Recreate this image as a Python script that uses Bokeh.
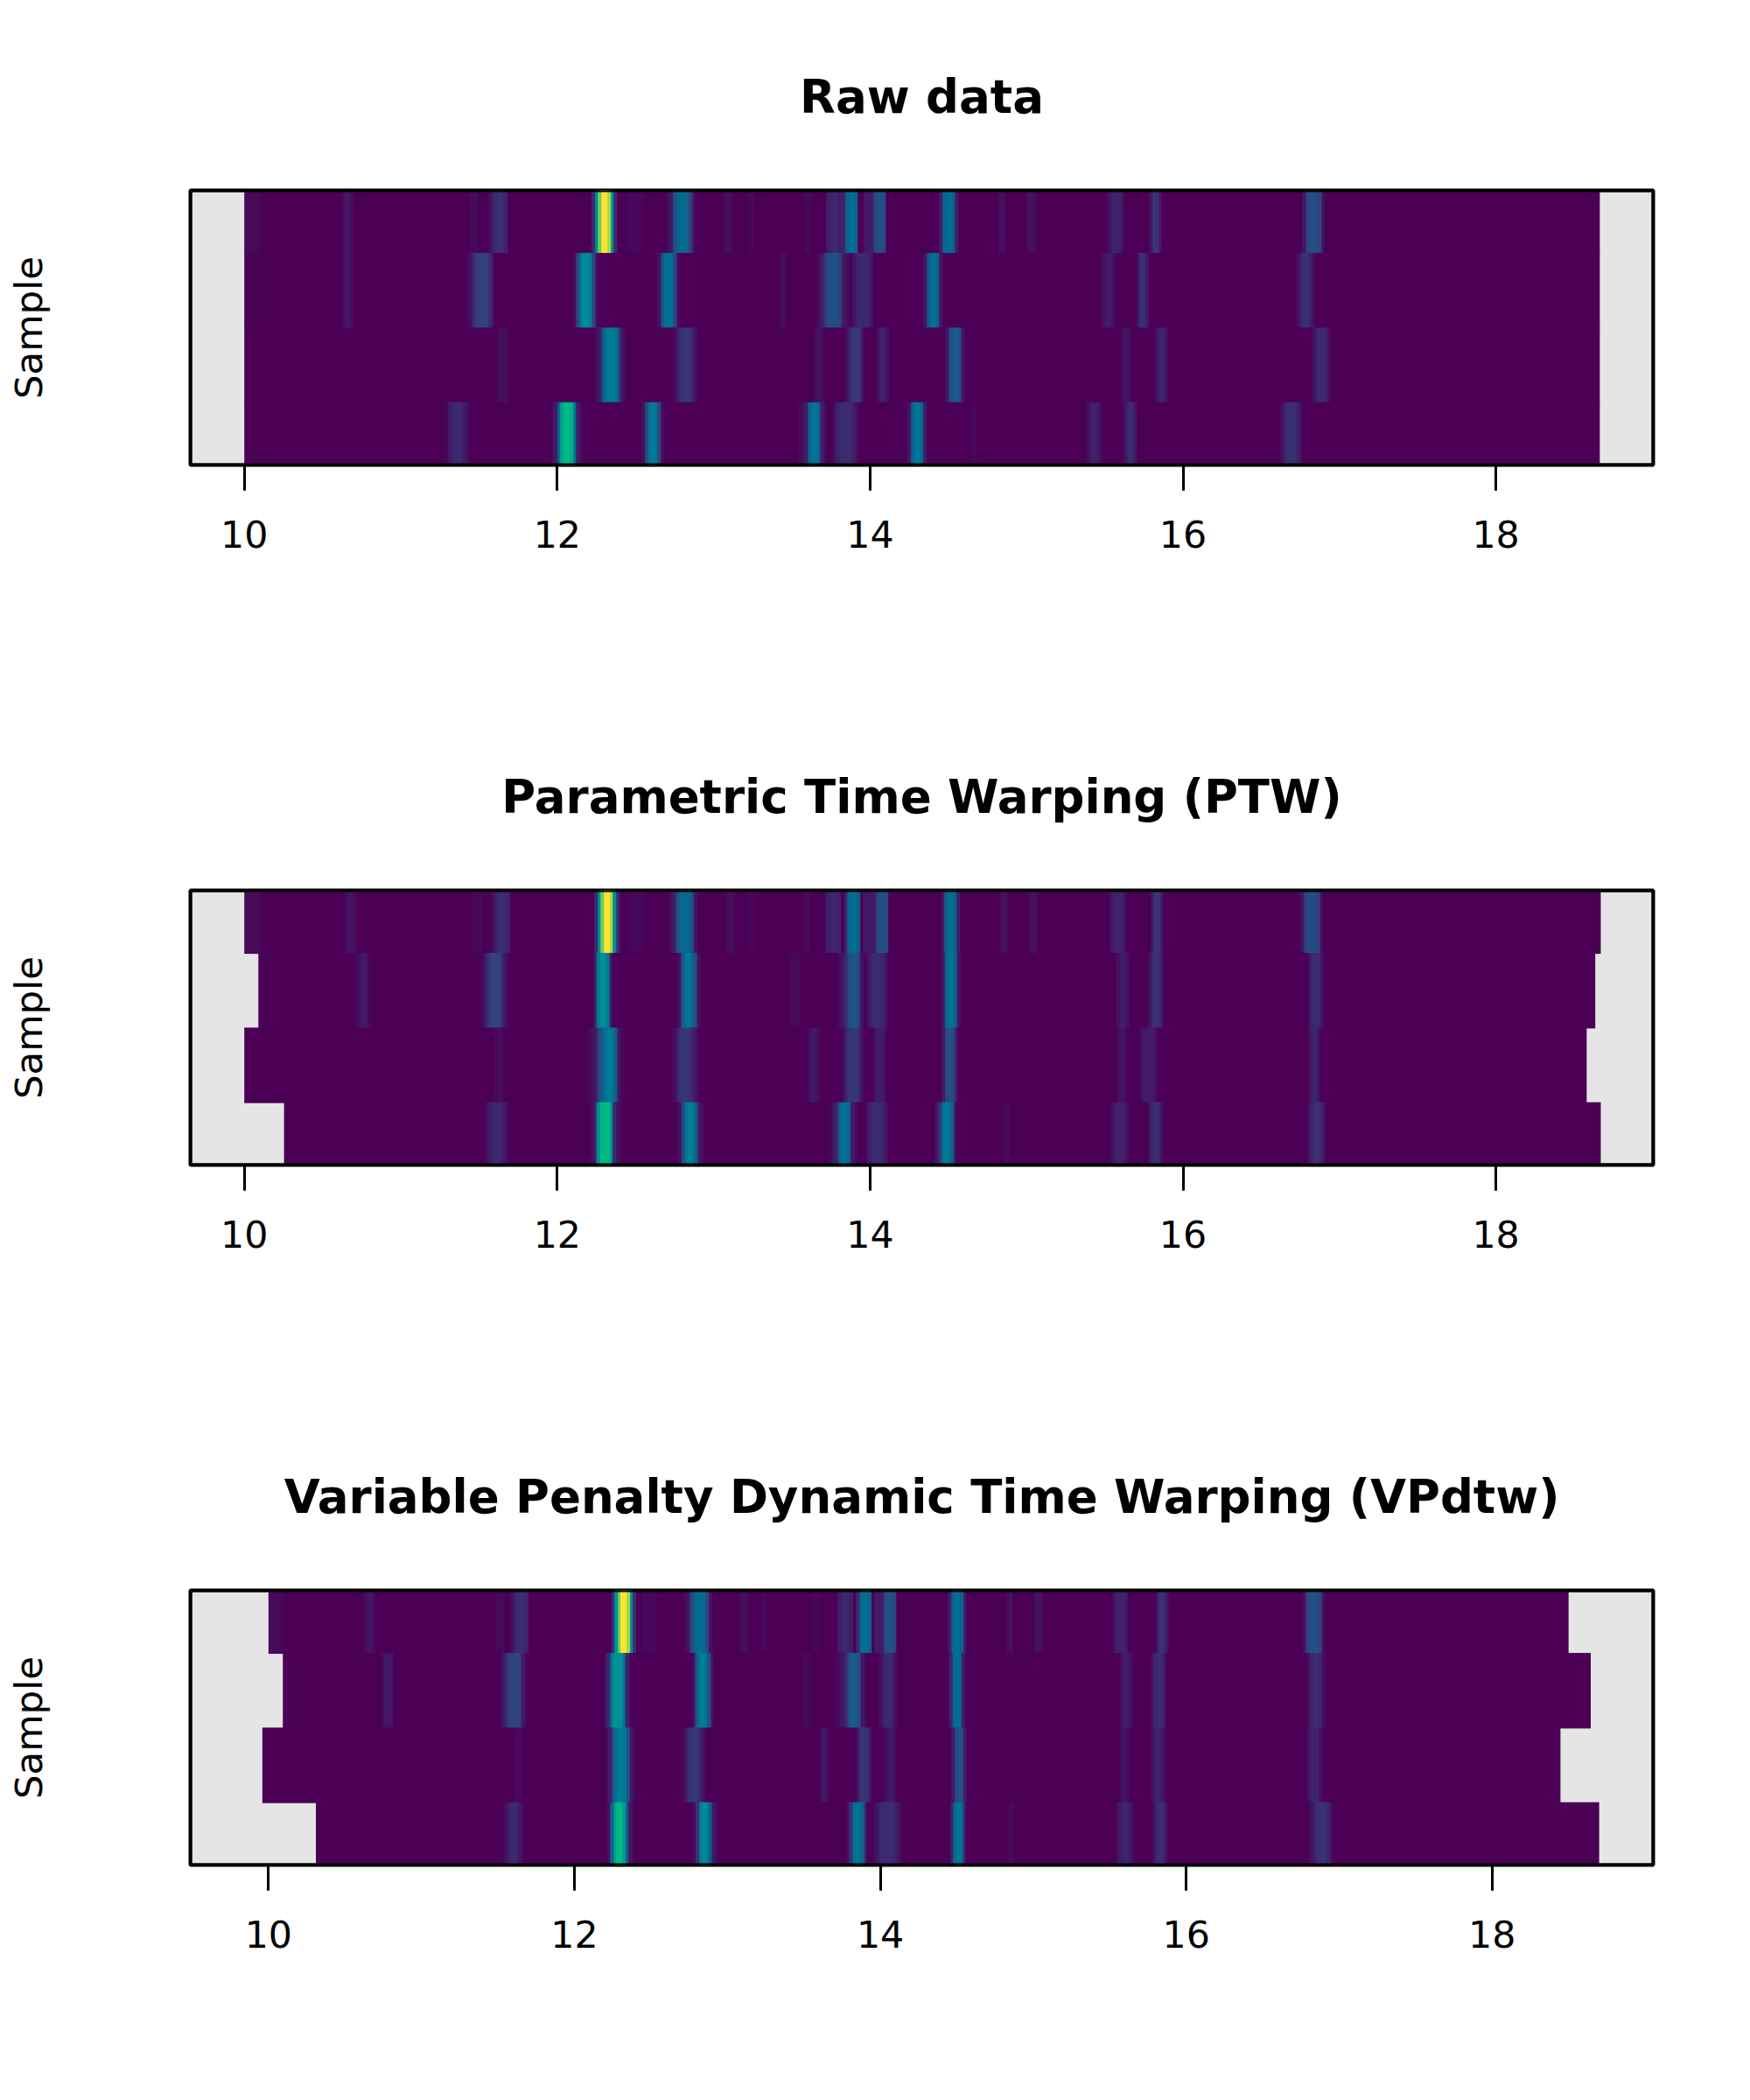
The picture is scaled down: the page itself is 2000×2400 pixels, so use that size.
import numpy as np
from bokeh.embed import file_html
from bokeh.resources import INLINE
from bokeh.layouts import column
from bokeh.models import BoxAnnotation, FixedTicker, LinearColorMapper, Range1d, Title
from bokeh.plotting import figure

# Rows top to bottom are samples 1-4. Intensities read on a 0-100 colour scale.
CELL_MIN = 0.02
TICKS = [10, 12, 14, 16, 18]

raw_start = [10.0, 10.0, 10.0, 10.0]
raw_end = [18.664, 18.664, 18.664, 18.664]
ptw_start = [10.0, 10.09, 10.0, 10.254]
ptw_end = [18.67, 18.635, 18.58, 18.67]
vpd_start = [10.0, 10.094, 9.96, 10.31]
vpd_end = [18.50, 18.645, 18.447, 18.70]

# Band centres (minutes) and the cell intensities across each band.
raw_s1_t = [10.045, 10.67, 11.48, 11.63, 12.31, 12.5, 12.80, 13.10, 13.24, 13.595, 13.77, 13.88, 13.985, 14.06, 14.51, 14.85, 15.04, 15.58, 15.83, 16.83]
raw_s1_v = [[3,3,3,3,3],[3,6,6,3],[3,3,3],[4,9,12,13,12,9],[12,45,78,100,100,85,45,12],[2,2,2,2,2],[4,8,22,30,32,32,30,18,5],[3,5,3],[2,2],[3,3],[8,10,11,10,8],[10,30,33,33,28],[7,7,7],[8,20,23,23,20],[8,28,33,33,28,8],[4,5],[4,5,4],[6,9,9,9,6],[7,14,14,7],[6,18,21,22,21,18,6]]
raw_s2_t = [10.07, 10.67, 11.51, 12.19, 12.72, 13.44, 13.76, 13.95, 14.41, 15.53, 15.75, 16.78]
raw_s2_v = [[1,1,1,1,1,1,1],[3,6,6,3],[3,6,13,17,18,18,17,12,4],[4,18,38,44,44,40,20,5],[5,20,33,34,33,20,5],[4,4],[4,8,14,20,23,23,22,16,7,4],[5,9,11,11,11,9,5],[6,26,34,34,26,6],[5,8,8,5],[7,13,13,7],[4,10,13,13,10,4]]
raw_s3_t = [11.66, 12.34, 12.83, 13.67, 13.91, 14.09, 14.54, 15.64, 15.86, 16.88]
raw_s3_v = [[4,4,4],[4,8,22,34,38,38,36,26,8,4],[3,8,13,15,15,13,8,3],[4,6,4],[5,12,15,16,14,5],[5,9,9,5],[6,20,26,27,22,6],[4,6,4],[6,10,10,6],[4,10,12,12,10,4]]
raw_s4_t = [11.37, 12.06, 12.62, 13.63, 13.84, 14.31, 14.67, 15.44, 15.67, 16.70]
raw_s4_v = [[3,7,10,11,11,10,7,3],[4,8,30,55,65,65,60,35,8,4],[5,22,36,38,36,20,5],[3,5,8,28,36,36,30,9,4],[5,9,11,12,12,11,9,5],[7,30,36,36,30,7],[2,2],[4,8,9,8,4],[6,12,12,6],[4,10,13,14,13,10,4]]

ptw_s1_t = [10.045, 10.67, 11.48, 11.63, 12.31, 12.5, 12.80, 13.10, 13.24, 13.595, 13.77, 13.88, 13.985, 14.06, 14.51, 14.85, 15.04, 15.58, 15.83, 16.83]
ptw_s1_v = [[3,3,3,3,3],[3,6,6,3],[3,3,3],[4,9,12,13,12,9],[12,45,78,100,100,85,45,12],[2,2,2,2,2],[4,8,22,30,32,32,30,18,5],[3,5,3],[2,2],[3,3],[8,10,11,10,8],[10,30,33,33,28],[7,7,7],[8,20,23,23,20],[8,28,33,33,28,8],[4,5],[4,5,4],[6,9,9,9,6],[7,14,14,7],[6,18,21,22,21,18,6]]
ptw_s2_t = [10.14, 10.76, 11.61, 12.30, 12.84, 13.53, 13.87, 14.04, 14.51, 15.61, 15.83, 16.84]
ptw_s2_v = [[1,1,1,1],[3,6,7,6,3],[3,7,14,18,18,18,14,7,3],[8,38,46,46,38,8],[5,26,35,37,30,22,5],[3,3,3],[4,6,12,20,24,26,20,6],[4,9,11,12,11,9,4],[6,28,34,34,28,6],[5,8,8,5],[5,12,14,12,5],[5,11,12,11,5]]
ptw_s3_t = [11.63, 12.31, 12.81, 13.64, 13.89, 14.06, 14.52, 15.60, 15.79, 16.84]
ptw_s3_v = [[3,4,3],[3,5,10,20,28,34,38,36,28,8,3],[4,10,14,15,15,13,9,4],[4,7,7,4],[4,11,15,15,15,11,4],[5,8,8,5],[8,20,24,20,8],[4,6,4],[3,7,8,8,7,3],[4,10,10,4]]
ptw_s4_t = [11.61, 12.31, 12.86, 13.82, 14.04, 14.49, 14.87, 15.60, 15.83, 16.85]
ptw_s4_v = [[3,7,10,11,11,10,7,3],[4,10,45,64,66,66,50,12,6,3],[5,22,36,40,38,30,10,5],[3,6,10,26,34,34,30,8,4],[5,10,12,12,12,10,5],[5,14,34,37,36,28,6],[3,3],[4,8,10,10,8,4],[5,11,13,11,5],[4,10,13,13,10,4]]

vpd_s1_t = [10.045, 10.66, 11.50, 11.63, 12.31, 12.5, 12.80, 13.10, 13.24, 13.59, 13.78, 13.89, 13.985, 14.06, 14.51, 14.84, 15.03, 15.58, 15.83, 16.84]
vpd_s1_v = [[3,3,3,3,3],[3,6,6,3],[3,3,3],[4,9,12,13,12,9],[12,45,78,100,100,85,45,12],[2,2,2,2,2],[4,8,22,30,32,32,30,18,5],[3,5,3],[2,2],[3,3],[8,10,11,10,8],[10,30,33,33,28],[7,7,7],[8,20,23,23,20],[8,28,33,33,28,8],[4,5],[4,5,4],[6,9,9,9,6],[7,14,14,7],[6,18,22,23,22,18,6]]
vpd_s2_t = [10.14, 10.77, 11.61, 12.29, 12.84, 13.53, 13.81, 14.04, 14.50, 15.60, 15.82, 16.85]
vpd_s2_v = [[1,1,1,1],[3,6,7,6],[3,8,15,18,19,19,17,8,3],[4,12,36,46,47,46,36,10,4],[5,26,37,40,34,22,5],[3,3,3],[3,5,8,14,24,28,26,20,7,3],[4,9,11,11,9,4],[10,30,34,32,8],[5,8,8,5],[5,11,12,11,5],[4,9,12,12,9,4]]
vpd_s3_t = [11.63, 12.31, 12.78, 13.64, 13.89, 14.06, 14.51, 15.60, 15.82, 16.84]
vpd_s3_v = [[2,2,2],[3,7,20,34,38,38,36,22,7,3],[3,8,14,15,15,13,8,3],[4,7,4],[6,14,15,14,6],[4,7,7,4],[7,20,24,20,7],[4,6,4],[4,8,9,8,4],[4,9,10,10,4]]
vpd_s4_t = [11.61, 12.31, 12.85, 13.85, 14.04, 14.51, 14.85, 15.60, 15.83, 16.87]
vpd_s4_v = [[3,7,10,11,10,7,3],[4,28,50,66,66,50,26,6,3],[4,14,40,44,42,30,8,4],[4,14,32,36,34,26,6],[4,8,11,12,12,12,11,8,4],[10,32,36,34,12],[3,3],[4,8,10,10,8,4],[5,11,13,11,5],[4,7,11,13,14,14,10,4]]

panels = [
    ("Raw data", (9.655, 19.006), raw_start, raw_end,
     [(raw_s1_t, raw_s1_v), (raw_s2_t, raw_s2_v), (raw_s3_t, raw_s3_v), (raw_s4_t, raw_s4_v)]),
    ("Parametric Time Warping (PTW)", (9.655, 19.006), ptw_start, ptw_end,
     [(ptw_s1_t, ptw_s1_v), (ptw_s2_t, ptw_s2_v), (ptw_s3_t, ptw_s3_v), (ptw_s4_t, ptw_s4_v)]),
    ("Variable Penalty Dynamic Time Warping (VPdtw)", (9.489, 19.054), vpd_start, vpd_end,
     [(vpd_s1_t, vpd_s1_v), (vpd_s2_t, vpd_s2_v), (vpd_s3_t, vpd_s3_v), (vpd_s4_t, vpd_s4_v)]),
]

anchors = ["#4B0055", "#353E7C", "#007094", "#009B95", "#00BE7D", "#96D84B", "#FDE333"]
rgb = np.array([[int(a[i:i + 2], 16) for i in (1, 3, 5)] for a in anchors], dtype=float)
pos = np.linspace(0, 1, len(anchors))
palette = ["#%02X%02X%02X" % tuple(int(round(np.interp(f, pos, rgb[:, c]))) for c in range(3))
           for f in np.linspace(0, 1, 256)]
mapper = LinearColorMapper(palette=palette, low=0, high=100)
Y_LIM = (0.658, 4.339)


def row_cells(start, end, centres, cells):
    n = int(round((end - start) / CELL_MIN))
    arr = np.zeros(n)
    width = (end - start) / n
    for c, vals in zip(centres, cells):
        first = int(round((c - len(vals) * CELL_MIN / 2 - start) / width))
        for k, v in enumerate(vals):
            if 0 <= first + k < n:
                arr[first + k] = max(arr[first + k], v)
    return arr


def panel(title, xlim, starts, ends, rows, height, bottom):
    p = figure(width=1984, height=height, output_backend="svg", toolbar_location=None,
               x_range=Range1d(*xlim), y_range=Range1d(*Y_LIM),
               min_border_left=217, min_border_right=95, min_border_top=216, min_border_bottom=bottom,
               background_fill_color="#E5E5E5", border_fill_color="white",
               outline_line_color="black", outline_line_width=4)
    p.title = Title(text=title, align="center", text_font="DejaVu Sans", text_font_size="53px",
                    text_font_style="bold", text_color="black", standoff=154)
    p.grid.visible = False
    for i, (start, end, (centres, cells)) in enumerate(zip(starts, ends, rows)):
        arr = row_cells(start, end, centres, cells)
        # slight overlap downward so that no seam shows between stacked rows
        p.image(image=[arr[np.newaxis, :]], x=start, y=3.5 - i - 0.012, dw=end - start, dh=1.012,
                color_mapper=mapper)
    # the outline's inner half is hidden by the image, so the box is repeated on top
    p.add_layout(BoxAnnotation(left=xlim[0], right=xlim[1], bottom=Y_LIM[0], top=Y_LIM[1],
                               fill_alpha=0, line_color="black", line_width=4, line_alpha=1,
                               level="overlay"))
    ax = p.xaxis[0]
    ax.ticker = FixedTicker(ticks=TICKS)
    ax.axis_line_color = None
    ax.major_tick_in = 0
    ax.major_tick_out = 28
    ax.major_tick_line_width = 3
    ax.major_tick_line_color = "black"
    ax.major_tick_line_cap = "round"
    ax.minor_tick_out = 0
    ax.minor_tick_in = 0
    ax.major_label_standoff = 35
    ax.major_label_text_font = "DejaVu Sans"
    ax.major_label_text_font_size = "42.7px"
    ax.major_label_text_color = "black"
    ay = p.yaxis[0]
    ay.ticker = FixedTicker(ticks=[])
    ay.axis_line_color = None
    ay.major_tick_out = 0
    ay.minor_tick_out = 0
    ay.major_label_text_font_size = "0px"
    ay.axis_label = "Sample"
    ay.axis_label_standoff = 160
    ay.axis_label_text_font = "DejaVu Sans"
    ay.axis_label_text_font_size = "43.5px"
    ay.axis_label_text_font_style = "normal"
    ay.axis_label_text_color = "black"
    return p


figs = []
for idx, (title, xlim, starts, ends, rows) in enumerate(panels):
    h = 784 if idx == 2 else 800
    figs.append(panel(title, xlim, starts, ends, rows, h, h - 216 - 315))

layout = column(*figs, spacing=0)
open("out.html", "w").write(file_html(layout, INLINE))
